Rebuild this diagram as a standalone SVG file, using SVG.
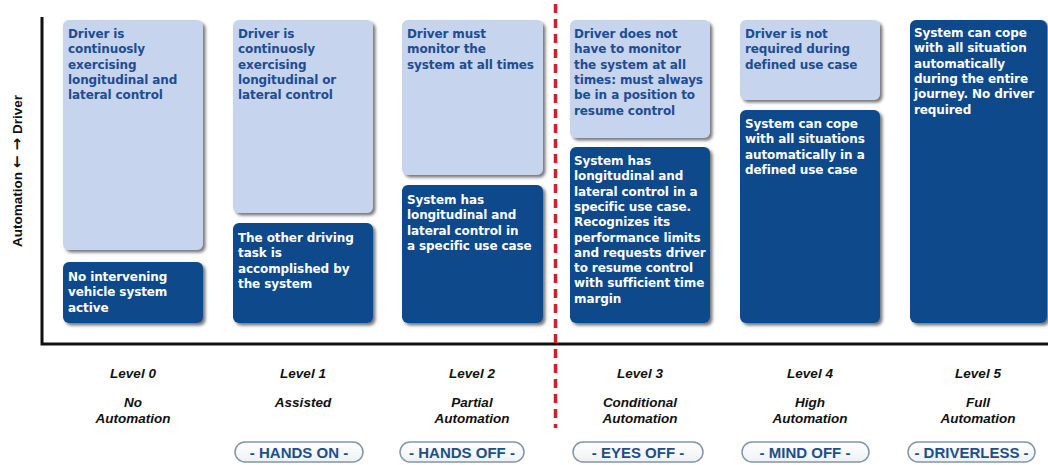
<svg xmlns="http://www.w3.org/2000/svg" width="1048" height="465" viewBox="0 0 1048 465">
  <defs>
    <filter id="shadow" x="-10%" y="-10%" width="125%" height="125%">
      <feDropShadow dx="2.5" dy="2.5" stdDeviation="1.4" flood-color="#4a4a4a" flood-opacity="0.75"/>
    </filter>
    <linearGradient id="pillFill" x1="0" y1="0" x2="0" y2="1">
      <stop offset="0" stop-color="#ffffff"/>
      <stop offset="1" stop-color="#eef1f5"/>
    </linearGradient>
  </defs>
  <style>
    .light { fill: #c6d4ed; filter: url(#shadow); }
    .dark { fill: #0d4a8b; filter: url(#shadow); }
    .t { font-family: "DejaVu Sans", "Liberation Sans", sans-serif; font-weight: bold; font-size: 12px; letter-spacing: -0.1px; }
    .tl { fill: #1d4d94; }
    .td { fill: #ffffff; }
    .lvl { font-family: "Liberation Sans", Arial, sans-serif; font-weight: bold; font-style: italic; font-size: 13.5px; fill: #111111; text-anchor: middle; }
    .pill { fill: url(#pillFill); stroke: #8395ab; stroke-width: 1.5; }
    .pilltxt { font-family: "Liberation Sans", Arial, sans-serif; font-weight: bold; font-size: 15px; fill: #1f4f88; text-anchor: middle; }
    .axis { stroke: #111111; stroke-width: 3; fill: none; }
    .divider { stroke: #cc2229; stroke-width: 3.5; stroke-dasharray: 9 6; fill: none; }
    .ylabel { font-family: "Liberation Sans", Arial, sans-serif; font-weight: bold; font-size: 13.5px; fill: #111111; text-anchor: middle; }
    .arrows { font-family: "DejaVu Sans", sans-serif; font-weight: bold; font-size: 15px; }
  </style>

  <rect width="1048" height="465" fill="#ffffff"/>

  <!-- axes and level divider -->
  <g id="connectors">
    <path class="axis" d="M42 17 V344 H1048"/>
    <path class="divider" d="M555.5 4 V428"/>
  </g>

  <text class="ylabel" transform="translate(22 171) rotate(-90)">Automation <tspan class="arrows">← →</tspan> Driver</text>

  <!-- Level 0 -->
  <g id="level0">
    <rect class="light" x="63" y="20" width="140" height="230" rx="6"/>
    <text class="t tl" x="68" y="38">
      <tspan x="68">Driver is</tspan>
      <tspan x="68" dy="15.3">continuosly</tspan>
      <tspan x="68" dy="15.3">exercising</tspan>
      <tspan x="68" dy="15.3">longitudinal and</tspan>
      <tspan x="68" dy="15.3">lateral control</tspan>
    </text>
    <rect class="dark" x="63" y="262" width="140" height="61" rx="6"/>
    <text class="t td" x="68" y="281">
      <tspan x="68">No intervening</tspan>
      <tspan x="68" dy="15.3">vehicle system</tspan>
      <tspan x="68" dy="15.3">active</tspan>
    </text>
    <text class="lvl" x="133" y="378">Level 0</text>
    <text class="lvl" x="133" y="407">No</text>
    <text class="lvl" x="133" y="423">Automation</text>
  </g>

  <!-- Level 1 -->
  <g id="level1">
    <rect class="light" x="233" y="20" width="140" height="193" rx="6"/>
    <text class="t tl" x="238" y="38">
      <tspan x="238">Driver is</tspan>
      <tspan x="238" dy="15.3">continuosly</tspan>
      <tspan x="238" dy="15.3">exercising</tspan>
      <tspan x="238" dy="15.3">longitudinal or</tspan>
      <tspan x="238" dy="15.3">lateral control</tspan>
    </text>
    <rect class="dark" x="233" y="223" width="140" height="100" rx="6"/>
    <text class="t td" x="238" y="242">
      <tspan x="238">The other driving</tspan>
      <tspan x="238" dy="15.3">task is</tspan>
      <tspan x="238" dy="15.3">accomplished by</tspan>
      <tspan x="238" dy="15.3">the system</tspan>
    </text>
    <text class="lvl" x="303" y="378">Level 1</text>
    <text class="lvl" x="303" y="407">Assisted</text>
    <rect class="pill" x="235" y="442" width="128" height="20" rx="10"/>
    <text class="pilltxt" x="299" y="457.5">- HANDS ON -</text>
  </g>

  <!-- Level 2 -->
  <g id="level2">
    <rect class="light" x="402" y="20" width="141" height="155" rx="6"/>
    <text class="t tl" x="407" y="38">
      <tspan x="407">Driver must</tspan>
      <tspan x="407" dy="15.3">monitor the</tspan>
      <tspan x="407" dy="15.3">system at all times</tspan>
    </text>
    <rect class="dark" x="402" y="185" width="141" height="138" rx="6"/>
    <text class="t td" x="407" y="204">
      <tspan x="407">System has</tspan>
      <tspan x="407" dy="15.3">longitudinal and</tspan>
      <tspan x="407" dy="15.3">lateral control in</tspan>
      <tspan x="407" dy="15.3">a specific use case</tspan>
    </text>
    <text class="lvl" x="472" y="378">Level 2</text>
    <text class="lvl" x="472" y="407">Partial</text>
    <text class="lvl" x="472" y="423">Automation</text>
    <rect class="pill" x="400" y="442" width="124" height="20" rx="10"/>
    <text class="pilltxt" x="462" y="457.5">- HANDS OFF -</text>
  </g>

  <!-- Level 3 -->
  <g id="level3">
    <rect class="light" x="570" y="20" width="140" height="118" rx="6"/>
    <text class="t tl" x="574" y="38">
      <tspan x="574">Driver does not</tspan>
      <tspan x="574" dy="15.3">have to monitor</tspan>
      <tspan x="574" dy="15.3">the system at all</tspan>
      <tspan x="574" dy="15.3">times: must always</tspan>
      <tspan x="574" dy="15.3">be in a position to</tspan>
      <tspan x="574" dy="15.3">resume control</tspan>
    </text>
    <rect class="dark" x="570" y="147" width="140" height="176" rx="6"/>
    <text class="t td" x="574" y="165">
      <tspan x="574">System has</tspan>
      <tspan x="574" dy="15.3">longitudinal and</tspan>
      <tspan x="574" dy="15.3">lateral control in a</tspan>
      <tspan x="574" dy="15.3">specific use case.</tspan>
      <tspan x="574" dy="15.3">Recognizes its</tspan>
      <tspan x="574" dy="15.3">performance limits</tspan>
      <tspan x="574" dy="15.3">and requests driver</tspan>
      <tspan x="574" dy="15.3">to resume control</tspan>
      <tspan x="574" dy="15.3">with sufficient time</tspan>
      <tspan x="574" dy="15.3">margin</tspan>
    </text>
    <text class="lvl" x="640" y="378">Level 3</text>
    <text class="lvl" x="640" y="407">Conditional</text>
    <text class="lvl" x="640" y="423">Automation</text>
    <rect class="pill" x="573" y="442" width="130" height="20" rx="10"/>
    <text class="pilltxt" x="638" y="457.5">- EYES OFF -</text>
  </g>

  <!-- Level 4 -->
  <g id="level4">
    <rect class="light" x="740" y="20" width="140" height="80" rx="6"/>
    <text class="t tl" x="745" y="38">
      <tspan x="745">Driver is not</tspan>
      <tspan x="745" dy="15.3">required during</tspan>
      <tspan x="745" dy="15.3">defined use case</tspan>
    </text>
    <rect class="dark" x="740" y="110" width="140" height="213" rx="6"/>
    <text class="t td" x="745" y="128">
      <tspan x="745">System can cope</tspan>
      <tspan x="745" dy="15.3">with all situations</tspan>
      <tspan x="745" dy="15.3">automatically in a</tspan>
      <tspan x="745" dy="15.3">defined use case</tspan>
    </text>
    <text class="lvl" x="810" y="378">Level 4</text>
    <text class="lvl" x="810" y="407">High</text>
    <text class="lvl" x="810" y="423">Automation</text>
    <rect class="pill" x="742" y="442" width="127" height="20" rx="10"/>
    <text class="pilltxt" x="805" y="457.5">- MIND OFF -</text>
  </g>

  <!-- Level 5 -->
  <g id="level5">
    <rect class="dark" x="910" y="20" width="137" height="303" rx="6"/>
    <text class="t td" x="914" y="37">
      <tspan x="914">System can cope</tspan>
      <tspan x="914" dy="15.3">with all situation</tspan>
      <tspan x="914" dy="15.3">automatically</tspan>
      <tspan x="914" dy="15.3">during the entire</tspan>
      <tspan x="914" dy="15.3">journey. No driver</tspan>
      <tspan x="914" dy="15.3">required</tspan>
    </text>
    <text class="lvl" x="978" y="378">Level 5</text>
    <text class="lvl" x="978" y="407">Full</text>
    <text class="lvl" x="978" y="423">Automation</text>
    <rect class="pill" x="908" y="442" width="127" height="20" rx="10"/>
    <text class="pilltxt" x="971.5" y="457.5">- DRIVERLESS -</text>
  </g>
</svg>
